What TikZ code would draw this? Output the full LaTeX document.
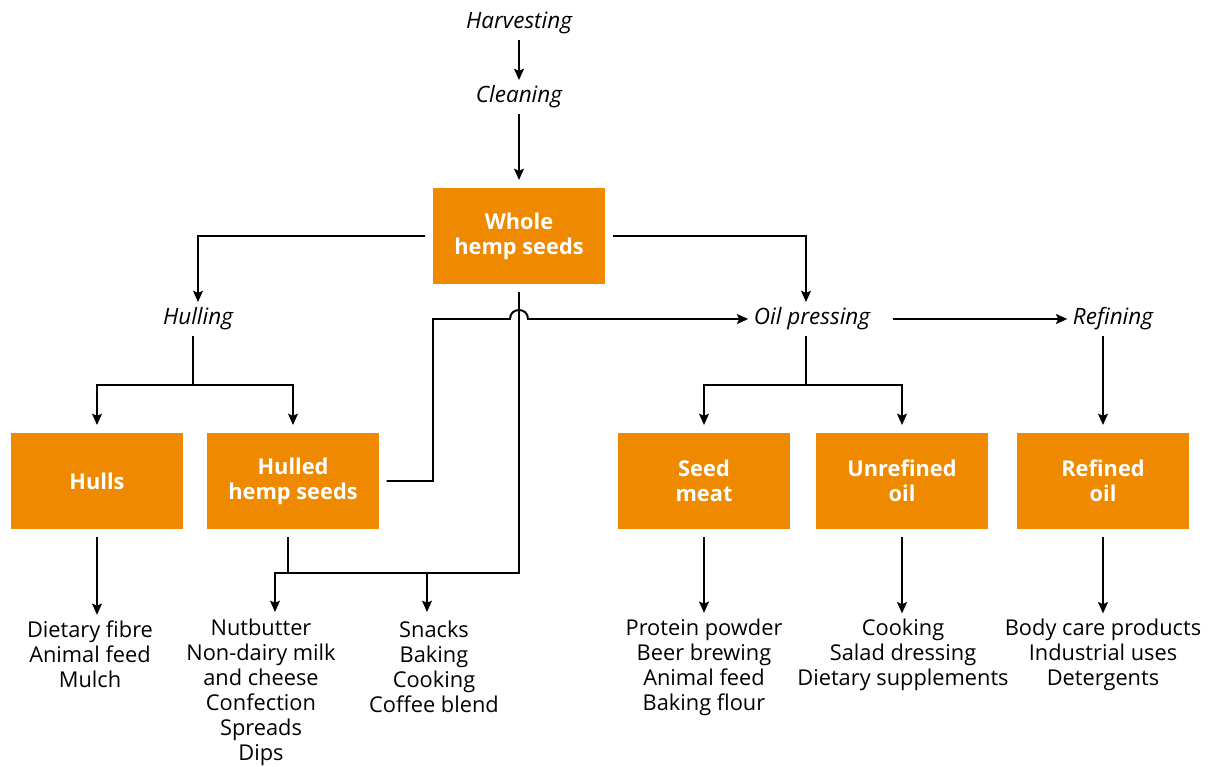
\documentclass[tikz,border=0pt]{standalone}
\usepackage{fontspec}
\setmainfont{Open Sans}
\usetikzlibrary{arrows.meta,calc}
\definecolor{hemporange}{RGB}{238,137,0}
\tikzset{
  box/.style={fill=hemporange,text=white,font=\fontsize{15.5}{18}\selectfont\bfseries,align=center,
    minimum width=4.28cm,minimum height=2.4cm,outer sep=0.2cm},
  stage/.style={font=\fontsize{16}{18}\selectfont\itshape},
  uses/.style={font=\fontsize{15.5}{17.8}\selectfont,align=center},
  arr/.style={-{Stealth[length=8pt,width=7pt,inset=1.5pt]}},
}
\begin{document}
\begin{tikzpicture}[x=0.025cm,y=-0.025cm,line width=1.4pt]
\useasboundingbox (0,0) rectangle (1210,767);
% stages
\node[stage] (harv) at (519,23) {Harvesting};
\node[stage] (clean) at (519,97) {Cleaning};
\node[stage] (hulling) at (198,319) {Hulling};
\node[stage] (oil) at (812,319) {Oil pressing};
\node[stage] (refining) at (1113,319) {Refining};
% products
\node[box] (whole) at (519,236) {Whole\\hemp seeds};
\node[box] (hulls) at (97,481) {Hulls};
\node[box] (hulled) at (293,481) {Hulled\\hemp seeds};
\node[box] (meat) at (704,481) {Seed\\meat};
\node[box] (unref) at (902,481) {Unrefined\\oil};
\node[box] (refined) at (1103,481) {Refined\\oil};
% uses
\node[uses] (fibre) at (90,654) {Dietary fibre\\Animal feed\\Mulch};
\node[uses] (nut) at (261,692) {Nutbutter\\Non-dairy milk\\and cheese\\Confection\\Spreads\\Dips};
\node[uses] (snacks) at (434,667) {Snacks\\Baking\\Cooking\\Coffee blend};
\node[uses] (protein) at (704,667) {Protein powder\\Beer brewing\\Animal feed\\Baking flour};
\node[uses] (cooking) at (903,655) {Cooking\\Salad dressing\\Dietary supplements};
\node[uses] (care) at (1103,655) {Body care products\\Industrial uses\\Detergents};
% joints
\coordinate (hsplit) at (193,385);
\coordinate (osplit) at (806,385);
\coordinate (bjoin) at (288,573);
\coordinate (cross) at (519,319);
\coordinate (turn) at (433,319);
\coordinate (nutarr) at (275,612);
\coordinate (snackarr) at (427,612);
% connectors
\draw[arr] (harv) -- (clean);
\draw[arr] (clean) -- (whole);
\draw[arr] (whole.west) -| (hulling);
\draw[arr] (whole.east) -| (oil.north -| osplit);
\draw (hulling.south -| hsplit) -- (hsplit);
\draw[arr] (hsplit) -| (hulls);
\draw[arr] (hsplit) -| (hulled);
\draw[arr] (hulled.east) -| (turn) -- ($(cross)+(-9,0)$)
  .. controls ($(cross)+(-9,-12)$) and ($(cross)+(9,-12)$) .. ($(cross)+(9,0)$) -- (oil.west);
\draw[arr,shorten <=12pt] (oil) -- (refining);
\draw (oil.south -| osplit) -- (osplit);
\draw[arr] (osplit) -| (meat);
\draw[arr] (osplit) -| (unref);
\draw[arr] (refining.south -| refined) -- (refined);
\draw (hulled.south -| bjoin) -- (bjoin);
\draw[arr] (whole.south) |- (nutarr |- bjoin) -- (nutarr);
\draw[arr] (snackarr |- bjoin) -- (snackarr);
\draw[arr] (hulls.south) -- (hulls.south |- fibre.north);
\draw[arr] (meat.south) -- (meat.south |- protein.north);
\draw[arr] (unref.south) -- (unref.south |- cooking.north);
\draw[arr] (refined.south) -- (refined.south |- care.north);
\end{tikzpicture}
\end{document}
